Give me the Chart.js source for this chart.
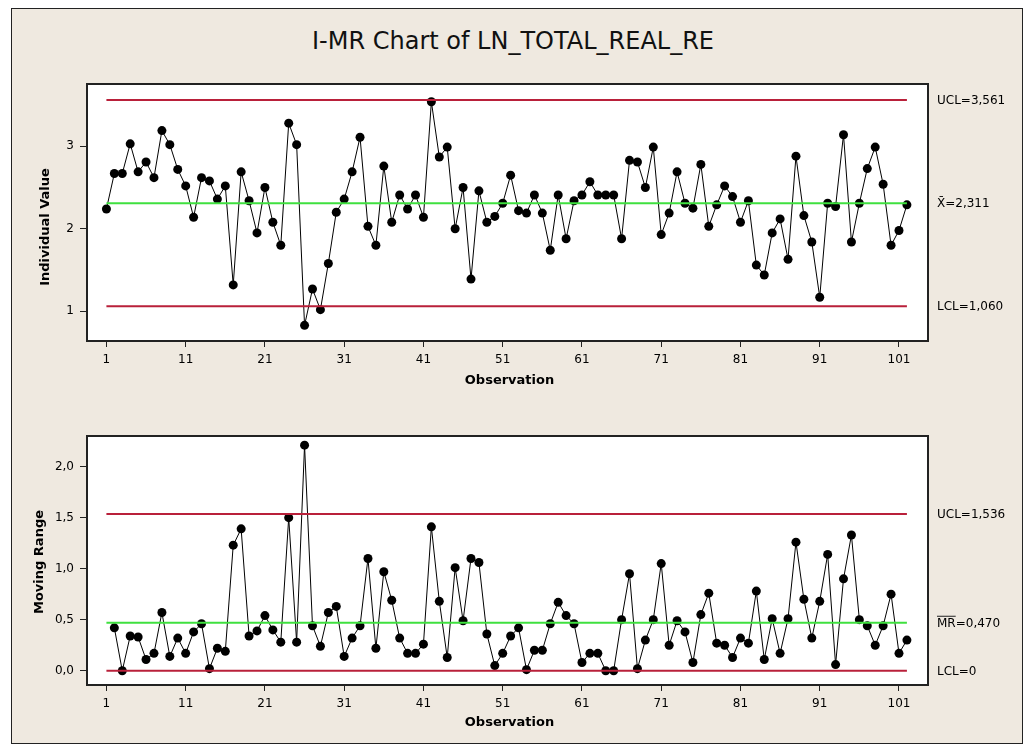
<!DOCTYPE html>
<html>
<head>
<meta charset="utf-8">
<script src="https://cdn.jsdelivr.net/npm/chart.js@4.4.1/dist/chart.umd.min.js"></script>
<style>
  html, body { margin: 0; padding: 0; background: #fff; width: 1026px; height: 746px; overflow: hidden; }
  #panel { position: absolute; left: 11px; top: 8px; width: 1012px; height: 736px; background: #efe9e0; border: 1px solid #222; box-sizing: border-box; }
  #title { position: absolute; left: 0; top: 26px; width: 1026px; text-align: center; font: 24px "DejaVu Sans"; color: #111; line-height: 30px; }
  canvas { position: absolute; left: 0; }
  #top { top: 0; }
  #bottom { top: 400px; }
</style>
</head>
<body>
<div id="panel"></div>
<div id="title">I-MR Chart of LN_TOTAL_REAL_RE</div>
<canvas id="top" width="1026" height="400"></canvas>
<canvas id="bottom" width="1026" height="346"></canvas>
<script>
// individual values, observations 1..102
const indValues = [
  2.24, 2.67, 2.67, 3.03, 2.69, 2.81, 2.62, 3.19, 3.02, 2.72,
  2.52, 2.14, 2.62, 2.58, 2.36, 2.52, 1.32, 2.69, 2.34, 1.95,
  2.50, 2.08, 1.80, 3.28, 3.02, 0.83, 1.27, 1.02, 1.58, 2.20,
  2.36, 2.69, 3.11, 2.03, 1.80, 2.76, 2.08, 2.41, 2.24, 2.41,
  2.14, 3.54, 2.87, 2.99, 2.00, 2.50, 1.39, 2.46, 2.08, 2.15,
  2.31, 2.65, 2.22, 2.19, 2.41, 2.19, 1.74, 2.41, 1.88, 2.34,
  2.41, 2.57, 2.41, 2.41, 2.41, 1.88, 2.83, 2.81, 2.50, 2.99,
  1.93, 2.19, 2.69, 2.31, 2.25, 2.78, 2.03, 2.29, 2.52, 2.39,
  2.08, 2.34, 1.56, 1.44, 1.95, 2.12, 1.63, 2.88, 2.16, 1.84,
  1.17, 2.31, 2.27, 3.14, 1.84, 2.31, 2.73, 2.99, 2.54, 1.80,
  1.98, 2.29
];

// moving ranges, observations 2..102
const mrValues = [
  0.42, 0.00, 0.34, 0.33, 0.11, 0.17, 0.57, 0.14, 0.32,
  0.17, 0.38, 0.46, 0.02, 0.22, 0.19, 1.23, 1.39, 0.34, 0.39,
  0.54, 0.40, 0.28, 1.50, 0.28, 2.21, 0.44, 0.24, 0.57, 0.63,
  0.14, 0.32, 0.44, 1.10, 0.22, 0.97, 0.69, 0.32, 0.17, 0.17,
  0.26, 1.41, 0.68, 0.13, 1.01, 0.49, 1.10, 1.06, 0.36, 0.05,
  0.17, 0.34, 0.42, 0.01, 0.20, 0.20, 0.46, 0.67, 0.54, 0.46,
  0.08, 0.17, 0.17, 0.00, 0.00, 0.50, 0.95, 0.02, 0.30, 0.50,
  1.05, 0.25, 0.49, 0.38, 0.08, 0.55, 0.76, 0.27, 0.25, 0.13,
  0.32, 0.27, 0.78, 0.11, 0.51, 0.17, 0.51, 1.26, 0.70, 0.32,
  0.68, 1.14, 0.06, 0.90, 1.33, 0.50, 0.44, 0.25, 0.44, 0.75,
  0.17, 0.30
];

const indLimits = { ucl: 3.561, center: 2.311, lcl: 1.060 };
const mrLimits = { ucl: 1.536, center: 0.470, lcl: 0 };
const indLimitLabels = ['UCL=3,561', 'X\u0304=2,311', 'LCL=1,060'];
const mrLimitLabels = ['UCL=1,536', 'MR=0,470', 'LCL=0'];

const xTicks = [1, 11, 21, 31, 41, 51, 61, 71, 81, 91, 101];
const xTickLabels = ['1', '11', '21', '31', '41', '51', '61', '71', '81', '91', '101'];
const indYTicks = [1, 2, 3];
const indYTickLabels = ['1', '2', '3'];
const mrYTicks = [0, 0.5, 1, 1.5, 2];
const mrYTickLabels = ['0,0', '0,5', '1,0', '1,5', '2,0'];

const firstObs = 1;
const lastObs = indValues.length;

const RED = '#b9203a';
const GREEN = '#3fe03f';
const tickFont = { family: 'DejaVu Sans', size: 12 };

const frameAndLabels = {
  id: 'frameAndLabels',
  beforeDraw(chart) {
    const { ctx, chartArea: a } = chart;
    ctx.save();
    ctx.fillStyle = '#fff';
    ctx.fillRect(a.left, a.top, a.right - a.left, a.bottom - a.top);
    ctx.restore();
  },
  afterDraw(chart, args, opts) {
    const { ctx, chartArea: a, scales } = chart;
    ctx.save();
    ctx.strokeStyle = '#222';
    ctx.lineWidth = 2;
    ctx.strokeRect(a.left, a.top, a.right - a.left, a.bottom - a.top);

    ctx.fillStyle = '#000';
    ctx.font = '12px "DejaVu Sans"';
    ctx.textAlign = 'left';
    ctx.textBaseline = 'middle';
    opts.limits.forEach((v, i) => {
      const y = scales.y.getPixelForValue(v);
      const txt = opts.labels[i];
      ctx.fillText(txt, a.right + 9, y + 1);
      if (opts.overline === i) {
        const w = ctx.measureText('MR').width;
        ctx.lineWidth = 1;
        ctx.beginPath();
        ctx.moveTo(a.right + 9, y - 6.5);
        ctx.lineTo(a.right + 9 + w, y - 6.5);
        ctx.stroke();
      }
    });

    ctx.font = 'bold 13px "DejaVu Sans"';
    ctx.textAlign = 'center';
    ctx.fillText('Observation', (a.left + a.right) / 2 + 2, opts.xTitleY);

    ctx.translate(opts.yTitleX, opts.yTitleY);
    ctx.rotate(-Math.PI / 2);
    ctx.fillText(opts.yTitle, 0, 0);
    ctx.restore();
  }
};

const limitLine = (value, color) => ({
  data: [{ x: firstObs, y: value }, { x: lastObs, y: value }],
  borderColor: color,
  borderWidth: 2,
  pointRadius: 0,
  fill: false
});

const makeChart = (canvasId, points, limits, opt) => {
  return new Chart(document.getElementById(canvasId), {
    type: 'line',
    data: {
      datasets: [
        limitLine(limits.ucl, RED),
        limitLine(limits.center, GREEN),
        limitLine(limits.lcl, RED),
        {
          data: points,
          borderColor: '#000',
          borderWidth: 1,
          pointRadius: 4.5,
          pointBackgroundColor: '#000',
          pointBorderWidth: 0,
          fill: false
        }
      ]
    },
    options: {
      responsive: false,
      animation: false,
      events: [],
      layout: { padding: { left: 0, right: 98, top: opt.top, bottom: 0 } },
      plugins: {
        legend: { display: false },
        tooltip: { enabled: false },
        frameAndLabels: {
          limits: [limits.ucl, limits.center, limits.lcl],
          labels: opt.limitLabels,
          overline: opt.overline,
          yTitle: opt.yTitle,
          yTitleX: opt.yTitleX,
          yTitleY: opt.yTitleY,
          xTitleY: opt.xTitleY
        }
      },
      scales: {
        x: {
          type: 'linear',
          min: -1.45,
          max: 104.66,
          afterFit: s => { s.height = opt.xHeight; },
          afterBuildTicks: s => { s.ticks = xTicks.map(v => ({ value: v })); },
          border: { display: false },
          grid: { drawOnChartArea: false, drawTicks: true, tickLength: 6, color: '#222' },
          ticks: {
            autoSkip: false,
            maxRotation: 0,
            padding: 6,
            color: '#000',
            font: tickFont,
            callback: (v, i) => xTickLabels[i]
          }
        },
        y: {
          min: opt.yMin,
          max: opt.yMax,
          afterFit: s => { s.width = 87; },
          afterBuildTicks: s => { s.ticks = opt.yTicks.map(v => ({ value: v })); },
          border: { display: false },
          grid: { drawOnChartArea: false, drawTicks: true, tickLength: 7, color: '#222' },
          ticks: {
            padding: 6,
            color: '#000',
            font: tickFont,
            callback: (v, i) => opt.yTickLabels[i]
          }
        }
      }
    },
    plugins: [frameAndLabels]
  });
};

const indPoints = indValues.map((v, i) => ({ x: firstObs + i, y: v }));
const mrPoints = mrValues.map((v, i) => ({ x: firstObs + 1 + i, y: v }));

makeChart('top', indPoints, indLimits, {
  top: 84, xHeight: 59, yMin: 0.64, yMax: 3.755,
  yTicks: indYTicks, yTickLabels: indYTickLabels,
  limitLabels: indLimitLabels, overline: -1,
  yTitle: 'Individual Value', yTitleX: 46, yTitleY: 227, xTitleY: 381
});

makeChart('bottom', mrPoints, mrLimits, {
  top: 36, xHeight: 61, yMin: -0.14, yMax: 2.30,
  yTicks: mrYTicks, yTickLabels: mrYTickLabels,
  limitLabels: mrLimitLabels, overline: 1,
  yTitle: 'Moving Range', yTitleX: 40, yTitleY: 162, xTitleY: 323
});
</script>
</body>
</html>
